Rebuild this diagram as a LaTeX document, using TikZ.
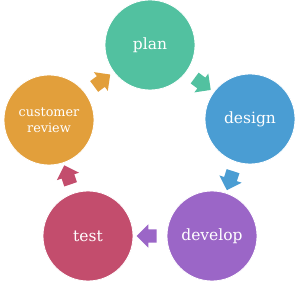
\documentclass[tikz,border=0pt]{standalone}
\usepackage{fontspec}
\setmainfont{DejaVu Serif}
\usetikzlibrary{shapes.arrows}
\definecolor{planc}{HTML}{52C1A0}
\definecolor{designc}{HTML}{4A9DD3}
\definecolor{developc}{HTML}{9B66C7}
\definecolor{testc}{HTML}{C34D6D}
\definecolor{reviewc}{HTML}{E29F3B}
\tikzset{
	stage/.style={circle, minimum size=90pt, inner sep=0pt, text=white,
		font=\fontsize{15.5}{17}\selectfont, draw=white, line width=0.8pt},
	flow/.style={single arrow, minimum height=20pt, inner xsep=0pt, inner ysep=6.5pt,
		single arrow head extend=5pt, single arrow head indent=0pt, sloped, allow upside down}
}
\begin{document}
\begin{tikzpicture}[x=1pt, y=-1pt]
	\useasboundingbox (0,0) rectangle (300,283);
	
	\node[stage, fill=planc] (plan) at (150, 45) {plan};
	\node[stage, fill=designc] (design) at (250, 119) {design};
	\node[stage, fill=developc] (develop) at (212, 236) {develop};
	\node[stage, fill=testc] (test) at (88, 236) {test};
	\node[stage, fill=reviewc, align=center, font=\fontsize{12.8}{16}\selectfont] (review) at (49, 120) {customer\\review};
	
	\path (plan) -- node[flow, fill=planc] {} (design);
	\path (design) -- node[flow, fill=designc] {} (develop);
	\path (develop) -- node[flow, fill=developc] {} (test);
	\path (test) -- node[flow, fill=testc] {} (review);
	\path (review) -- node[flow, fill=reviewc] {} (plan);
\end{tikzpicture}
\end{document}
